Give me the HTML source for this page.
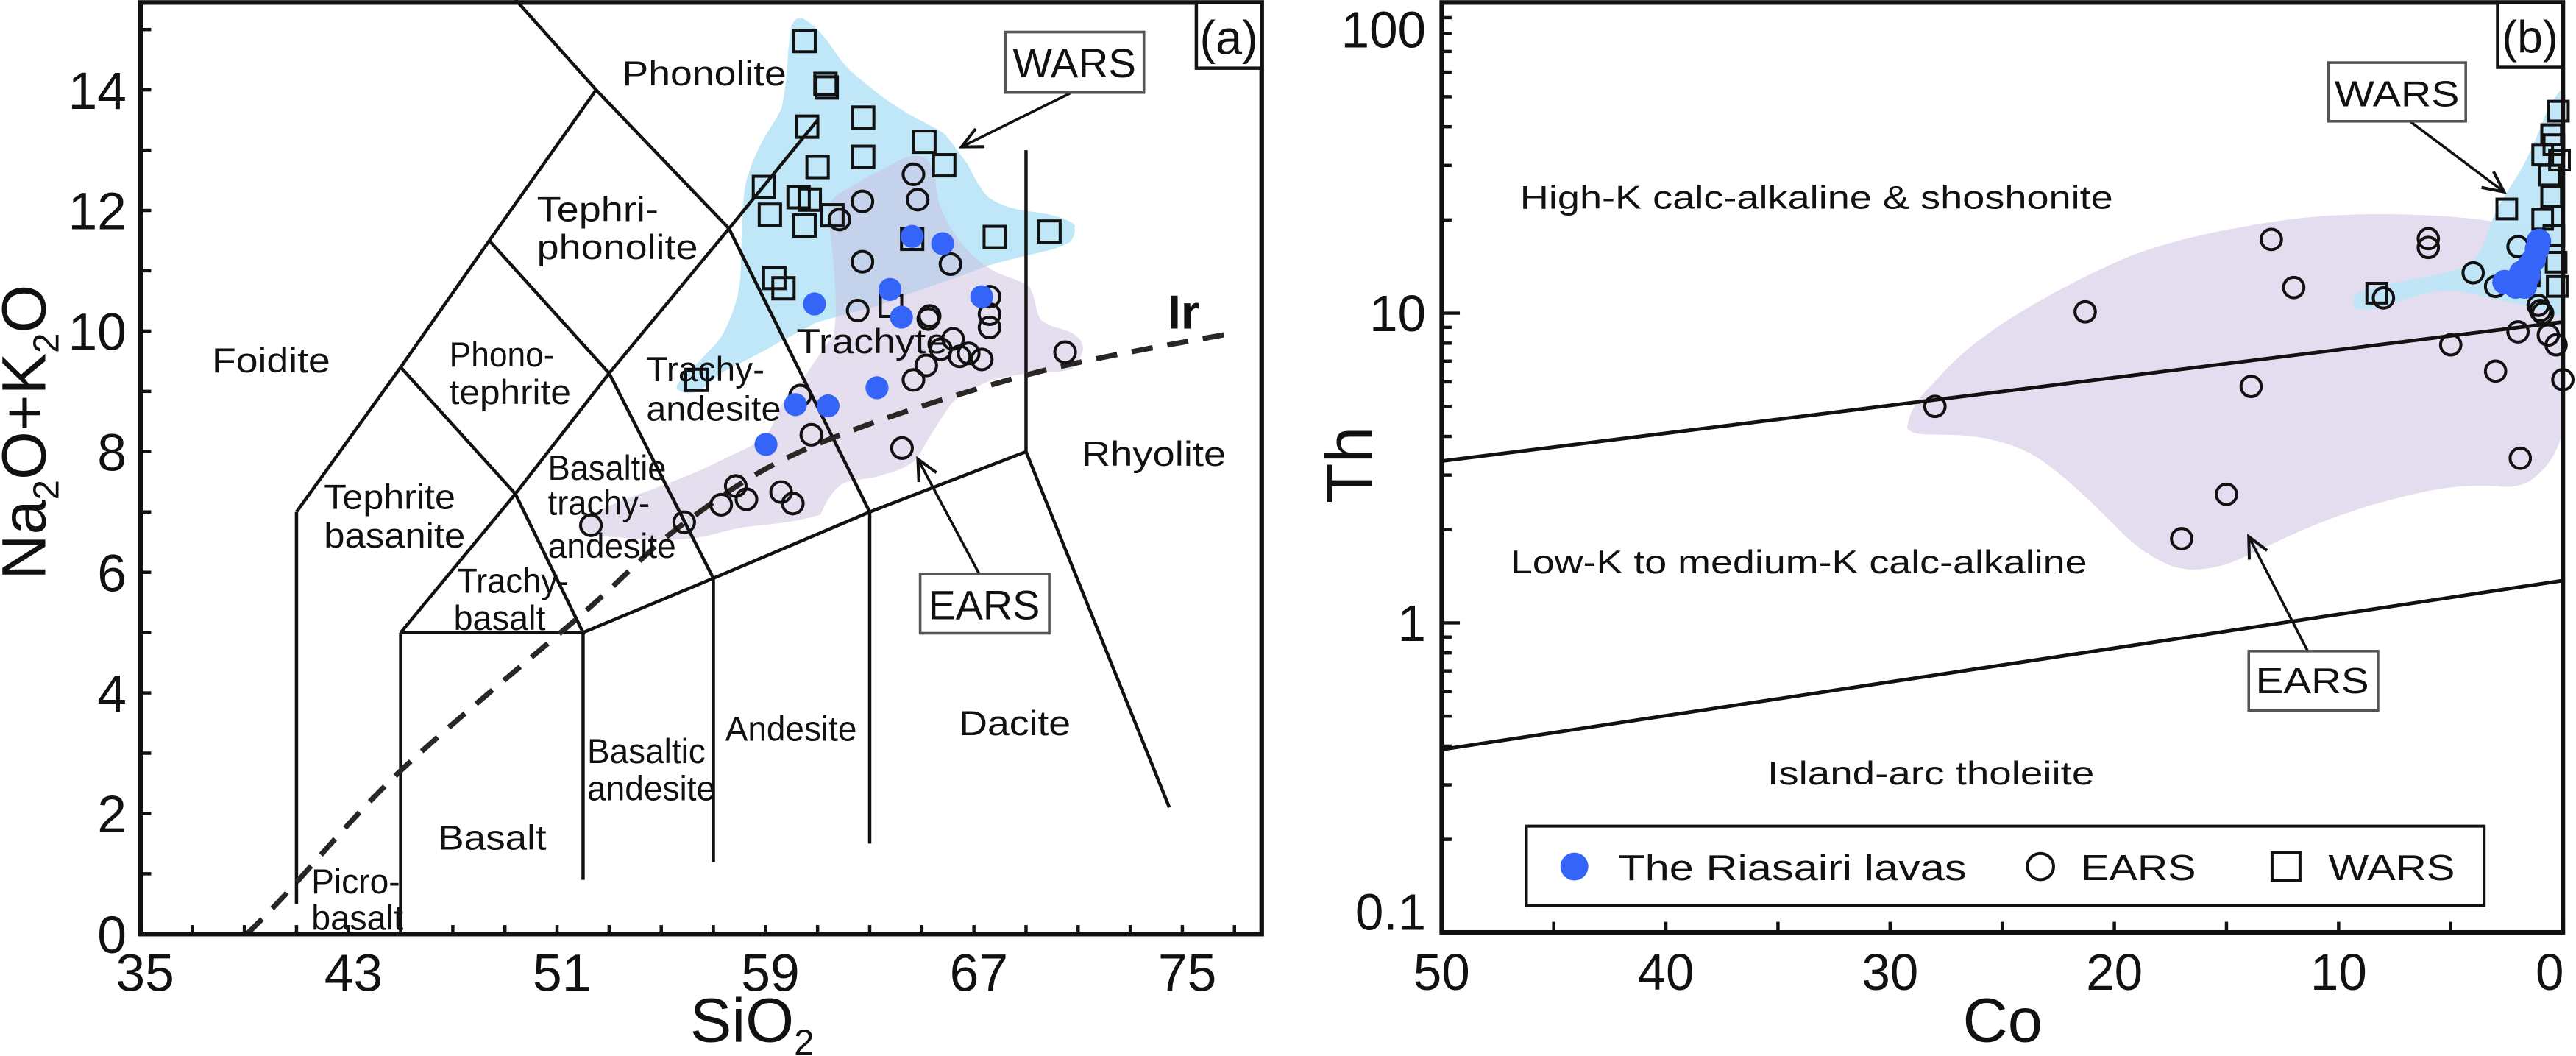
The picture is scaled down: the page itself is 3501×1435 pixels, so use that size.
<!DOCTYPE html>
<html><head><meta charset="utf-8"><style>
html,body{margin:0;padding:0;background:#fff;}
svg{display:block;}
text{font-family:"Liberation Sans",Arial,sans-serif;fill:#111;}
</style></head><body>
<svg id="fig" xmlns="http://www.w3.org/2000/svg" width="3501" height="1435" viewBox="0 0 1568 642.7" preserveAspectRatio="none">
<g id="pa"></g>
<g id="pb"></g>
</svg>
<script>
// ---------- Panel (a) data ----------
const riaSi = [64.63,65.8,63.78,67.3,60.88,64.22,63.28,60.15,61.4,59.02];
const riaAlk = [11.57,11.45,10.69,10.57,10.45,10.23,9.06,8.78,8.76,8.12];
const earsSi = [64.68,64.84,62.72,61.84,62.72,66.1,62.54,65.25,65.3,67.6,67.6,67.6,66.2,65.73,66.45,66.8,67.3,65.17,64.68,70.5,60.33,60.76,64.24,57.86,58.27,57.3,59.6,60.05,55.88,52.3];
const earsAlk = [12.6,12.18,12.15,11.85,11.15,11.11,10.34,10.2,10.25,10.57,10.28,10.06,9.87,9.7,9.58,9.63,9.53,9.43,9.19,9.65,8.93,8.28,8.06,7.43,7.21,7.12,7.33,7.14,6.83,6.78];
const warsSi = [60.5,61.35,61.3,60.6,62.75,65.1,62.75,65.86,61.0,58.94,60.27,60.7,59.17,61.57,60.5,64.63,67.8,69.9,59.34,59.69,63.82,56.35];
const warsAlk = [14.81,14.04,14.1,13.39,13.54,13.14,12.89,12.75,12.72,12.39,12.22,12.18,11.93,11.92,11.75,11.53,11.56,11.65,10.88,10.71,10.42,9.19];
const xTicksA = [35,43,51,59,67,75];
const yTicksA = [0,2,4,6,8,10,12,14];
const irSi = [39.1,40.5,45.05,52,55.9,60.7,69,77.1];
const irAlk = [0,0.62,2.73,5.32,6.82,8.07,9.27,9.98];
// TAS field boundaries [si1,alk1,si2,alk2]
const tasSegs = [
 [41,0.5,41,7],[41,7,45,9.4],[45,9.4,48.4,11.5],[48.4,11.5,52.5,14],[49.4,15.5,52.5,14],[52.5,14,57.6,11.7],
 [57.6,11.7,61,13.5],[57.6,11.7,63,7],[48.4,11.5,53,9.3],[53,9.3,57.6,11.7],[53,9.3,57,5.9],
 [45,9.4,49.4,7.3],[49.4,7.3,53,9.3],[45,5,49.4,7.3],[49.4,7.3,52,5],[45,0,45,5],[45,5,52,5],
 [52,5,57,5.9],[57,5.9,63,7],[63,7,69,8],[52,0.9,52,5],[57,1.2,57,5.9],[63,1.5,63,7],[69,8,69,13],[69,8,74.5,2.1]
];
// ---------- Panel (b) data ----------
const riaCo = [2.6,2.1,1.7,1.85,1.5,1.3,1.15,1.07,1.55];
const riaTh = [12.6,12.2,12.2,13.5,14.2,14.9,16.1,17.1,13.2];
const earsCo = [28,21.3,13,12,13.9,15,17,6,6,4,5,3,2,2,3,8,1.9,1,0.9,1.1,0.65,0.3,0];
const earsTh = [5,10.1,17.3,12.1,5.8,2.6,1.87,17.4,16.3,13.5,7.9,6.5,16.4,8.7,12.2,11.2,3.4,10.2,10,10.6,8.5,7.9,6.1];
const warsCo = [2.5,8.3,0.2,0.5,0.4,0.9,0.15,0.6,0.5,0.9,0.4,0.3,0.25,1.5];
const warsTh = [21.7,11.6,44.9,37.7,35,32.4,31.2,27.9,23.8,20.1,17.8,14.6,12.2,13.2];
const xTicksB = [50,40,30,20,10,0];
const yTicksB = [0.1,1,10,100];
const yTickLabelsB = ['0.1','1','10','100'];
const upperLineCo = [50,0], upperLineTh = [3.33,9.37];
const lowerLineCo = [50,0], lowerLineTh = [0.39,1.37];

const NS='http://www.w3.org/2000/svg';
function mk(tag,attrs,parent){const e=document.createElementNS(NS,tag);for(const k in attrs)e.setAttribute(k,attrs[k]);parent.appendChild(e);return e;}
// axis functions
const xA=v=>85.3+(v-35)*15.86, yA=v=>568.5-36.7*v;
const xB=v=>1560-v*13.65, yB=v=>567.6-(Math.log10(v)+1)*188.5;

const pa=document.getElementById('pa'), pb=document.getElementById('pb');

// ===== Panel A =====
let r=mk('path',{d:'M489.3,11.5 C500,18 507,30 507.4,30.1 C515,42 520,45 525.4,49.6 C540,62 548,66 552.5,69.1 C565,76 570,78 575,81.5 C582,90 585,95 588.6,99.2 C594,110 598,117 602.2,120.4 C612,127 622,128 631.5,129.3 C645,131 656,136 654.1,138.1 C655,143 652,146 651.8,147 C645,151 640,152 631.5,154 C615,158 606,160 597.7,163 C585,168 575,171 563.8,175.3 C550,180 545,182 534.5,186 C520,190 508,193 496.1,196.6 C485,203 476,207 466.8,212.5 C455,219 448,222 439.7,226.7 C432,232 428,238 421.6,239 C414,240 410,236 412.6,233.8 C414,231 416,230 417.1,228.5 C430,215 436,210 439.7,203.7 C450,185 451,170 451,159.4 C452,130 452,115 455.5,106.3 C462,85 472,75 475.8,65.5 C480,45 479,35 480.3,26.6 C481,18 482,14 482.6,14.2 C484,11 487,10 489.3,11.5 Z',fill:'#bfe7f8',stroke:'none'},pa);


r=mk('path',{d:'M557,94.7 C562,95 565,97 566,99.2 C570,110 570,118 571.7,124 C575,133 578,138 581.9,143.5 C590,155 597,160 604.5,164.7 C615,170 624,171 627,175.3 C631,183 630,190 633.8,194.8 C640,200 650,200 654.1,203.7 C659,207 660,212 658.7,214.4 C657,220 655,222 652.7,224.4 C645,227 640,226 632.7,226.4 C618,228 605,230 596.7,234.4 C588,238 582,242 578.7,246.4 C573,254 570,260 566.7,264.4 C562,272 560,277 556.7,280.4 C548,287 540,288 532.7,290.4 C525,292 518,292 512.7,294.4 C505,300 502,308 499.3,313.3 C485,318 468,319 453,320.8 C440,323 428,328 414.4,328.3 C400,329 388,328 375.9,327 C365,326 355,326 352.7,323.3 C351,320 353,317 355.3,315.8 C365,310 375,306 388.7,300.8 C405,295 415,291 427.3,285.8 C445,277 458,272 465.9,265.8 C470,260 472,255 473.6,250.8 C476,245 479,240 489.3,230 C497,218 503,210 507.4,203.7 C510,190 508,170 507.4,159.4 C506,145 503,130 505.1,124 C508,118 514,116 518.7,113.3 C530,106 536,104 541.2,101 C548,97 553,95 557,94.7 Z',fill:'#c9bde0','fill-opacity':'0.5',stroke:'none'},pa);



tasSegs.forEach((s,i)=>{
 const l=mk('line',{x1:xA(s[0]),y1:yA(s[1]),x2:xA(s[2]),y2:yA(s[3]),stroke:'#111','stroke-width':2},pa);
 
 
});
// Ir dashed curve (smooth through points)
{
 const px=irSi.map(xA), py=irAlk.map(yA);
 let d='M'+px[0].toFixed(1)+','+py[0].toFixed(1);
 for(let i=0;i<px.length-1;i++){
  const p0=i>0?i-1:i, p3=i+2<px.length?i+2:i+1;
  const c1x=px[i]+(px[i+1]-px[p0])/6, c1y=py[i]+(py[i+1]-py[p0])/6;
  const c2x=px[i+1]-(px[p3]-px[i])/6, c2y=py[i+1]-(py[p3]-py[i])/6;
  d+=' C'+c1x.toFixed(1)+','+c1y.toFixed(1)+' '+c2x.toFixed(1)+','+c2y.toFixed(1)+' '+px[i+1].toFixed(1)+','+py[i+1].toFixed(1);
 }
 const p=mk('path',{d:d,fill:'none',stroke:'#2a2624','stroke-width':3.2,'stroke-dasharray':'13,9'},pa);
 
 
}
const labelsA=[
 ['Phonolite',378.7,52,100],['Tephri-',326.8,134.6,74],['phonolite',326.8,157.6,98],['Foidite',129,226.7,72],
 ['Phono-',273.5,223,64],['tephrite',273.5,246,74],['Trachy-',393.4,232,72],['andesite',393.4,256,82],
 ['Trachyte',484.8,215,92],['Tephrite',197.2,309.6,80],['basanite',197.2,333.3,86],
 ['Basaltie',333.5,292,72],['trachy-',333.5,313.3,62],['andesite',333.5,339.5,78],
 ['Trachy-',278.2,360.8,68],['basalt',276.1,383.3,56],['Basaltic',357.4,464.5,72],['andesite',357.4,487,78],
 ['Andesite',441.5,450.8,80],['Basalt',266.6,517,66],['Picro-',189.5,543.8,54],['basalt',189.5,565.8,56],
 ['Rhyolite',658.3,283.4,88],['Dacite',583.7,447.4,68]
];
labelsA.forEach(a=>{
 const t=mk('text',{x:a[1],y:a[2],'font-size':21,textLength:a[3],lengthAdjust:'spacingAndGlyphs'},pa);
 t.textContent=a[0];
 
 
});
{
 const t=mk('text',{x:710.7,y:200,'font-size':29,'font-weight':'bold'},pa);t.textContent='Ir';
 
 
}
warsSi.forEach((v,i)=>{const m=mk('rect',{x:xA(v)-6.5,y:yA(warsAlk[i])-6.5,width:13,height:13,fill:'none',stroke:'#111','stroke-width':1.8},pa);
 
 });
earsSi.forEach((v,i)=>{const m=mk('circle',{cx:xA(v),cy:yA(earsAlk[i]),r:6.3,fill:'none',stroke:'#111','stroke-width':1.8},pa);
 
 });
riaSi.forEach((v,i)=>{const m=mk('circle',{cx:xA(v),cy:yA(riaAlk[i]),r:7,fill:'#3464f8'},pa);
 
 });

function callout(parent,bx,by,bw,bh,txt,tx,ty,fs,tl,ax1,ay1,ax2,ay2,name){
 const g=mk('g',{},parent);
 
 
 mk('line',{x1:ax1,y1:ay1,x2:ax2,y2:ay2,stroke:'#111','stroke-width':1.6},g);
 const ang=Math.atan2(ay2-ay1,ax2-ax1),L=14,w=0.45;
 mk('polyline',{points:`${ax2-L*Math.cos(ang-w)},${ay2-L*Math.sin(ang-w)} ${ax2},${ay2} ${ax2-L*Math.cos(ang+w)},${ay2-L*Math.sin(ang+w)}`,fill:'none',stroke:'#111','stroke-width':1.8},g);
 mk('rect',{x:bx,y:by,width:bw,height:bh,fill:'#fff',stroke:'#555','stroke-width':1.6},g);
 const t=mk('text',{x:tx,y:ty,'font-size':fs,textLength:tl,lengthAdjust:'spacingAndGlyphs'},g);t.textContent=txt;
}
callout(pa,611.9,19.5,84.4,36.8,'WARS',616.5,47,25,75,651.4,56.7,585.3,89.4,'wars-callout-a');
callout(pa,560.1,349.4,78.6,36,'EARS',565,377,25,68,596.1,349.4,558.7,279.4,'ears-callout-a');

r=mk('rect',{x:85.5,y:1.5,width:682.5,height:567,fill:'none',stroke:'#111','stroke-width':2.8},pa);


r=mk('rect',{x:728.2,y:1.5,width:39.8,height:40,fill:'#fff',stroke:'#111','stroke-width':2},pa);


{const t=mk('text',{x:748,y:33,'font-size':29,'text-anchor':'middle'},pa);t.textContent='(a)';
 
 }
for(let v=0;v<=15;v++){const l=mk('line',{x1:85.5,y1:yA(v),x2:92,y2:yA(v),stroke:'#111','stroke-width':2},pa);
 
 }
for(let v=35;v<=77;v+=2){const l=mk('line',{x1:xA(v),y1:568.5,x2:xA(v),y2:563,stroke:'#111','stroke-width':2},pa);
 
 }
yTicksA.forEach(v=>{const t=mk('text',{x:77,y:yA(v)+11.5,'font-size':32,'text-anchor':'end'},pa);t.textContent=v;
 
 });
xTicksA.forEach(v=>{const t=mk('text',{x:xA(v)+3,y:603,'font-size':32,'text-anchor':'middle'},pa);t.textContent=v;
 
 });
{const t=mk('text',{x:420,y:634,'font-size':38},pa);t.innerHTML='SiO<tspan font-size="22" dy="8">2</tspan>';
 
 }
{const t=mk('text',{x:0,y:0,'font-size':38,'text-anchor':'middle',transform:'translate(27.5,263) rotate(-90)'},pa);
 t.innerHTML='Na<tspan font-size="22" dy="8">2</tspan><tspan dy="-8">O+K</tspan><tspan font-size="22" dy="8">2</tspan><tspan dy="-8">O</tspan>';
 
 }

// ===== Panel B =====
{
 const g=mk('g',{transform:'translate(806.2,0) scale(0.4858,0.4098)'},pb);
 
 
 let p=mk('path',{d:'M730,635 C735,600 750,585 770,560 C800,520 830,495 870,465 C920,430 960,405 1010,380 C1060,358 1110,345 1160,335 C1220,322 1270,318 1320,318 C1380,318 1430,322 1470,330 C1510,335 1530,330 1552,330 L1552,640 C1545,670 1535,690 1520,705 C1505,722 1490,725 1470,722 C1440,720 1410,722 1380,730 C1330,742 1280,760 1230,785 C1190,805 1160,825 1130,838 C1100,848 1080,848 1060,840 C1030,825 1010,805 990,780 C960,745 935,715 900,685 C870,660 830,648 790,646 C760,645 735,648 730,635 Z',fill:'#e4ddf0'},g);
 
 
 p=mk('path',{d:'M1290,455 C1285,440 1295,432 1320,425 C1360,415 1400,408 1425,398 C1450,385 1452,360 1462,330 C1472,300 1488,275 1500,250 C1512,225 1520,200 1530,170 C1538,150 1545,138 1552,130 L1552,470 C1540,468 1530,462 1510,455 C1480,448 1450,440 1420,432 C1395,430 1370,438 1345,448 C1320,458 1295,465 1290,455 Z',fill:'#bde5f7','fill-opacity':'0.95'},g);
 
 
}
{
 let l=mk('line',{x1:xB(upperLineCo[0]),y1:yB(upperLineTh[0]),x2:xB(upperLineCo[1]),y2:yB(upperLineTh[1]),stroke:'#111','stroke-width':2.2},pb);
 
 
 l=mk('line',{x1:xB(lowerLineCo[0]),y1:yB(lowerLineTh[0]),x2:xB(lowerLineCo[1]),y2:yB(lowerLineTh[1]),stroke:'#111','stroke-width':2.2},pb);
 
 
}
const labelsB=[['High-K calc-alkaline & shoshonite',925.2,127,361],['Low-K to medium-K calc-alkaline',919.4,349,351],['Island-arc tholeiite',1075.8,477.4,199]];
labelsB.forEach(a=>{const t=mk('text',{x:a[1],y:a[2],'font-size':20,textLength:a[3],lengthAdjust:'spacingAndGlyphs'},pb);t.textContent=a[0];
 
 });
earsCo.forEach((v,i)=>{const m=mk('circle',{cx:xB(v),cy:yB(earsTh[i]),r:6.2,fill:'none',stroke:'#111','stroke-width':1.8},pb);
 
 });
warsCo.forEach((v,i)=>{const m=mk('rect',{x:xB(v)-6,y:yB(warsTh[i])-6,width:12,height:12,fill:'none',stroke:'#111','stroke-width':1.8},pb);
 
 });
riaCo.forEach((v,i)=>{const m=mk('circle',{cx:xB(v),cy:yB(riaTh[i]),r:7.5,fill:'#3464f8'},pb);
 
 });
callout(pb,1417.3,38.1,83.6,35.7,'WARS',1421,64.7,22,76,1466.9,73.8,1524.2,116.8,'wars-callout-b');
callout(pb,1368.8,396.3,78.7,36,'EARS',1373,422,22,69,1404.7,396.3,1368.8,326.6,'ears-callout-b');
{
 const g=mk('g',{},pb);
 
 
 mk('rect',{x:929.1,y:502.8,width:583,height:48.4,fill:'#fff',stroke:'#111','stroke-width':1.8},g);
 let e=mk('circle',{cx:958.3,cy:527.4,r:8.5,fill:'#3464f8'},g);
 
 
 let t=mk('text',{x:985,y:535.6,'font-size':22,textLength:212,lengthAdjust:'spacingAndGlyphs'},g);t.textContent='The Riasairi lavas';
 e=mk('circle',{cx:1242,cy:527.4,r:8,fill:'none',stroke:'#111','stroke-width':1.8},g);
 
 
 t=mk('text',{x:1266.7,y:535.6,'font-size':22,textLength:70,lengthAdjust:'spacingAndGlyphs'},g);t.textContent='EARS';
 e=mk('rect',{x:1383,y:519,width:17,height:17,fill:'none',stroke:'#111','stroke-width':1.8},g);
 
 
 t=mk('text',{x:1417.3,y:535.6,'font-size':22,textLength:77,lengthAdjust:'spacingAndGlyphs'},g);t.textContent='WARS';
}
r=mk('rect',{x:877.6,y:1.5,width:682.4,height:566,fill:'none',stroke:'#111','stroke-width':2.8},pb);


r=mk('rect',{x:1520.3,y:1.5,width:39.7,height:39.5,fill:'#fff',stroke:'#111','stroke-width':2},pb);


{const t=mk('text',{x:1540,y:32,'font-size':28,'text-anchor':'middle'},pb);t.textContent='(b)';
 
 }
for(let d=-1;d<=1;d++){for(let k=1;k<=9;k++){const v=k*Math.pow(10,d);const len=k===1?11:6;
 const l=mk('line',{x1:877.6,y1:yB(v),x2:877.6+len,y2:yB(v),stroke:'#111','stroke-width':2},pb);
 
 }}
for(let v=0;v<=50;v+=5){const l=mk('line',{x1:xB(v),y1:567.6,x2:xB(v),y2:561,stroke:'#111','stroke-width':2},pb);
 
 }
yTicksB.forEach((v,i)=>{let yy=yB(v)+11;if(v===100)yy=29;if(v===0.1)yy=566;
 const t=mk('text',{x:868,y:yy,'font-size':31,'text-anchor':'end'},pb);t.textContent=yTickLabelsB[i];
 
 });
xTicksB.forEach(v=>{let xx=xB(v);if(v===0)xx-=8;
 const t=mk('text',{x:xx,y:602.4,'font-size':31,'text-anchor':'middle'},pb);t.textContent=v;
 
 });
{const t=mk('text',{x:1219,y:634,'font-size':38,'text-anchor':'middle'},pb);t.textContent='Co';
 
 }
{const t=mk('text',{x:0,y:0,'font-size':40,'text-anchor':'middle',transform:'translate(835,283) rotate(-90)'},pb);t.textContent='Th';
 
 }
</script>
</body></html>
